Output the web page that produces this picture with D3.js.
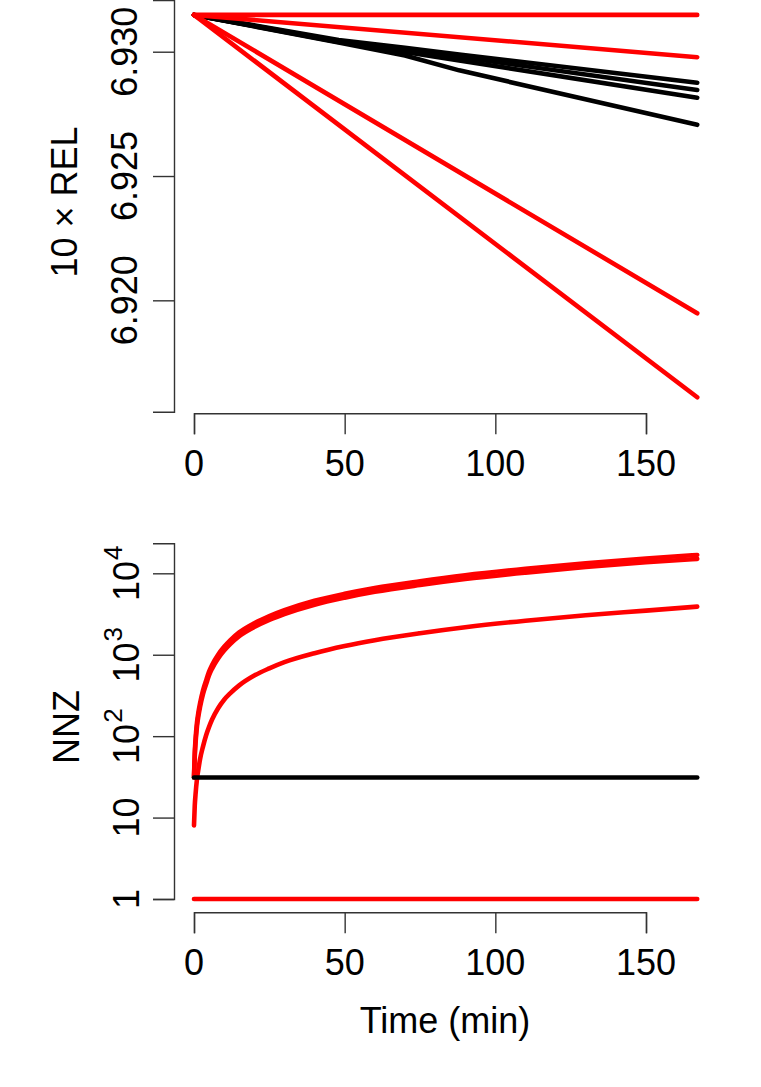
<!DOCTYPE html>
<html><head><meta charset="utf-8">
<script src="https://cdn.jsdelivr.net/npm/d3@7"></script>
<style>
html,body{margin:0;padding:0;background:#fff;}
svg{display:block;}
text{font-family:"Liberation Sans",Arial,Helvetica,sans-serif;fill:#000;}
</style></head>
<body>
<svg id="chart" width="761" height="1087"></svg>
<script>
// ---- Top panel data (10 x REL vs time) ----
const timeTopBlack = [0, 48, 70, 88, 167];
const blackTop1 = [6.93148, 6.93047, 6.93016, 6.92989, 6.92875];
const blackTop2 = [6.93148, 6.93043, 6.93009, 6.92979, 6.92846];
const blackTop3 = [6.93148, 6.93039, 6.92999, 6.92965, 6.92815];
const blackTop4 = [6.93148, 6.93037, 6.92985, 6.92925, 6.92706];
const timeTopRed = [0, 167];
const redTop1 = [6.93148, 6.93148];
const redTop2 = [6.93148, 6.92978];
const redTop3 = [6.93148, 6.91948];
const redTop4 = [6.93148, 6.91610];
const topYTicks = [6.920, 6.925, 6.930];
const topYLabels = ["6.920", "6.925", "6.930"];

// ---- Bottom panel data (NNZ vs time) ----
const timeBot = [0, 0.25, 0.5, 1, 1.5, 2, 3, 4, 5, 6, 8, 10, 12, 15, 20, 25, 30, 40, 50, 60, 75, 90, 110, 130, 150, 167];
const nnzRedA = [32, 62, 90, 148, 200, 252, 365, 480, 620, 750, 1000, 1250, 1500, 1880, 2440, 2980, 3520, 4600, 5600, 6600, 8000, 9480, 11380, 13300, 15200, 16800];
const nnzRedB = [31, 56, 81, 133, 180, 227, 330, 432, 560, 675, 900, 1125, 1350, 1690, 2190, 2680, 3160, 4120, 5020, 5920, 7180, 8500, 10200, 11950, 13650, 15060];
const nnzRedC = [8, 14, 19, 30, 40, 52, 75, 102, 130, 160, 220, 280, 335, 420, 555, 680, 810, 1045, 1280, 1510, 1840, 2180, 2620, 3050, 3480, 3900];
const timeFlat = [0, 167];
const nnzBlack = [31, 31];
const nnzRedOne = [1, 1];
const botYTicks = [1, 10, 100, 1000, 10000];
const botYBase = ["1", "10", "10", "10", "10"];
const botYExp = ["", "", "2", "3", "4"];

const xTicks = [0, 50, 100, 150];
const xTitle = "Time (min)";
const topYTitle = "10 \u00D7 REL";
const botYTitle = "NNZ";

// ---- drawing ----
const svg = d3.select("#chart");
svg.append("rect").attr("width", 761).attr("height", 1087).attr("fill", "#fff");

const AXIS_COLOR = "#333";
const FS = 36;
const x = d3.scaleLinear().domain([0, 150]).range([194, 646]);

// Top panel
const yTop = d3.scaleLinear().domain([6.91552, 6.93208]).range([411.7, 0]);
const gTop = svg.append("g");

function styleAxis(g) {
  g.selectAll("path.domain").attr("stroke", AXIS_COLOR).attr("stroke-width", 1.4);
  g.selectAll(".tick line").attr("stroke", AXIS_COLOR).attr("stroke-width", 1.4);
  g.selectAll(".tick text").remove();
}

const axTopY = gTop.append("g").attr("transform", "translate(174,0)")
  .call(d3.axisLeft(yTop).tickValues(topYTicks).tickSizeOuter(0).tickSize(21));
styleAxis(axTopY);
topYTicks.forEach((v, i) => {
  gTop.append("text")
    .attr("transform", `translate(137,${yTop(v)}) rotate(-90)`)
    .attr("text-anchor", "middle").attr("font-size", FS)
    .text(topYLabels[i]);
});

const axTopX = gTop.append("g").attr("transform", "translate(0,413.3)")
  .call(d3.axisBottom(x).tickValues(xTicks).tickSizeOuter(0).tickSize(21));
styleAxis(axTopX);
xTicks.forEach(v => {
  gTop.append("text").attr("x", x(v)).attr("y", 476)
    .attr("text-anchor", "middle").attr("font-size", FS).text(String(v));
});

gTop.append("text")
  .attr("transform", "translate(77,202) rotate(-90)")
  .attr("text-anchor", "middle").attr("font-size", FS).text(topYTitle);

function drawLine(g, xs, ys, xScale, yScale, color, width, curve) {
  const pts = xs.map((t, i) => [t, ys[i]]);
  const line = d3.line().x(d => xScale(d[0])).y(d => yScale(d[1]));
  if (curve) line.curve(curve);
  g.append("path").datum(pts).attr("d", line)
    .attr("fill", "none").attr("stroke", color).attr("stroke-width", width)
    .attr("stroke-linecap", "round").attr("stroke-linejoin", "round");
}

[blackTop1, blackTop2, blackTop3, blackTop4].forEach(s =>
  drawLine(gTop, timeTopBlack, s, x, yTop, "#000", 4.6));
[redTop1, redTop2, redTop3, redTop4].forEach(s =>
  drawLine(gTop, timeTopRed, s, x, yTop, "#ff0000", 4.6));

// Bottom panel
const yBot = d3.scaleLog().domain([1, Math.pow(10, 4.3686)]).range([899, 543.3]);
const gBot = svg.append("g");

const axBotY = gBot.append("g").attr("transform", "translate(174,0)")
  .call(d3.axisLeft(yBot).tickValues(botYTicks).tickSizeOuter(0).tickSize(21));
styleAxis(axBotY);
botYTicks.forEach((v, i) => {
  const t = gBot.append("text")
    .attr("transform", `translate(139,${yBot(v)}) rotate(-90)`)
    .attr("text-anchor", "middle").attr("font-size", FS);
  t.append("tspan").text(botYBase[i]);
  if (botYExp[i]) {
    t.append("tspan").attr("dy", -17).attr("dx", 1).attr("font-size", 26).text(botYExp[i]);
  }
});

const axBotX = gBot.append("g").attr("transform", "translate(0,912.3)")
  .call(d3.axisBottom(x).tickValues(xTicks).tickSizeOuter(0).tickSize(21));
styleAxis(axBotX);
xTicks.forEach(v => {
  gBot.append("text").attr("x", x(v)).attr("y", 974.5)
    .attr("text-anchor", "middle").attr("font-size", FS).text(String(v));
});

gBot.append("text")
  .attr("transform", "translate(79,727) rotate(-90)")
  .attr("text-anchor", "middle").attr("font-size", FS).text(botYTitle);

gBot.append("text").attr("x", 445).attr("y", 1033)
  .attr("text-anchor", "middle").attr("font-size", FS).text(xTitle);

drawLine(gBot, timeFlat, nnzRedOne, x, yBot, "#ff0000", 4.6);
drawLine(gBot, timeBot, nnzRedA, x, yBot, "#ff0000", 4.6, d3.curveMonotoneX);
drawLine(gBot, timeBot, nnzRedB, x, yBot, "#ff0000", 4.6, d3.curveMonotoneX);
drawLine(gBot, timeBot, nnzRedC, x, yBot, "#ff0000", 4.6, d3.curveMonotoneX);
drawLine(gBot, timeFlat, nnzBlack, x, yBot, "#000", 4.6);
</script>
</body></html>
